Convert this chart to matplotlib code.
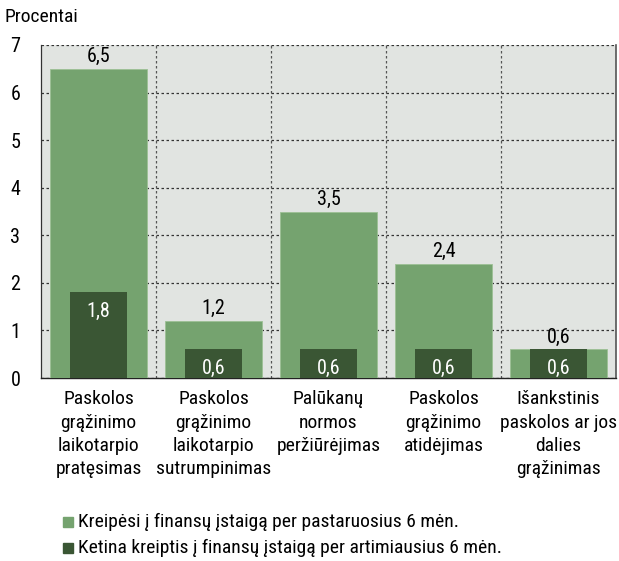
import numpy as np
import matplotlib.pyplot as plt
from matplotlib.patches import Rectangle

categories = [
    "Paskolos\ngrąžinimo\nlaikotarpio\npratęsimas",
    "Paskolos\ngrąžinimo\nlaikotarpio\nsutrumpinimas",
    "Palūkanų\nnormos\nperžiūrėjimas",
    "Paskolos\ngrąžinimo\natidėjimas",
    "Išankstinis\npaskolos ar jos\ndalies\ngrąžinimas",
]
applied = [6.5, 1.2, 3.5, 2.4, 0.6]
planned = [1.8, 0.6, 0.6, 0.6, 0.6]
labels_applied = ["6,5", "1,2", "3,5", "2,4", "0,6"]
labels_planned = ["1,8", "0,6", "0,6", "0,6", "0,6"]
legend_names = [
    "Kreipėsi į finansų įstaigą per pastaruosius 6 mėn.",
    "Ketina kreiptis į finansų įstaigą per artimiausius 6 mėn.",
]

light = "#75A36F"
dark = "#3A5634"

plt.rcParams['font.family'] = ['Roboto Condensed', 'Liberation Sans', 'DejaVu Sans']

fs = 14

fig = plt.figure(figsize=(6.19, 5.61), dpi=100)
ax = fig.add_axes([41 / 619, 1 - 378 / 561, 575 / 619, 333 / 561])
ax.set_facecolor("#E1E4E1")

x = np.arange(len(categories))
ax.bar(x, applied, width=0.84, color=light, edgecolor="#9CC094", linewidth=0.6, zorder=3)
ax.bar(x, planned, width=0.5, color=dark, zorder=4)

for i in range(len(x)):
    ax.text(x[i], applied[i] + 0.06, labels_applied[i], ha="center", va="bottom",
            fontsize=fs + 0.5, color="black", zorder=5)
    ax.text(x[i], planned[i] - 0.2, labels_planned[i], ha="center", va="top",
            fontsize=fs + 0.5, color="white", zorder=5)

ax.set_xlim(-0.5, len(x) - 0.5)
ax.set_ylim(0, 7)
ax.set_yticks(range(0, 8))
ax.set_xticks(x)
ax.set_xticklabels(categories, fontsize=fs, linespacing=1.38)
ax.tick_params(axis="x", length=0, pad=9)
ax.tick_params(axis="y", length=0, pad=22, labelsize=fs + 0.5)
for t in ax.get_yticklabels():
    t.set_horizontalalignment("left")

ax.set_xticks(np.arange(0.5, len(x) - 0.5, 1), minor=True)
ax.grid(which="minor", axis="x", color="#555555", linestyle=(0, (2, 2)), linewidth=0.9, zorder=1)
ax.grid(which="major", axis="y", color="#333333", linestyle=(0, (2, 2)), linewidth=0.9, zorder=1)
ax.grid(which="major", axis="x", visible=False)
ax.tick_params(which="minor", length=0)

ax.spines["top"].set_visible(False)
ax.spines["left"].set_color("#333333")
ax.spines["bottom"].set_color("#222222")
ax.spines["right"].set_color("#555555")
ax.spines["left"].set_linewidth(0.9)
ax.spines["bottom"].set_linewidth(1.0)
ax.spines["right"].set_linewidth(1.2)

fig.text(5 / 619, 1 - 17 / 561, "Procentai", fontsize=fs, va="center", ha="left")

# legenda feita na mão
for k, (name, col) in enumerate(zip(legend_names, [light, dark])):
    yy = 1 - (522 + k * 26) / 561
    fig.patches.append(Rectangle((63 / 619, yy - 5 / 561), 10 / 619, 10 / 561,
                                 transform=fig.transFigure, color=col))
    fig.text(78 / 619, yy, name, fontsize=fs, va="center", ha="left")

fig.savefig("out.png", dpi=100)
